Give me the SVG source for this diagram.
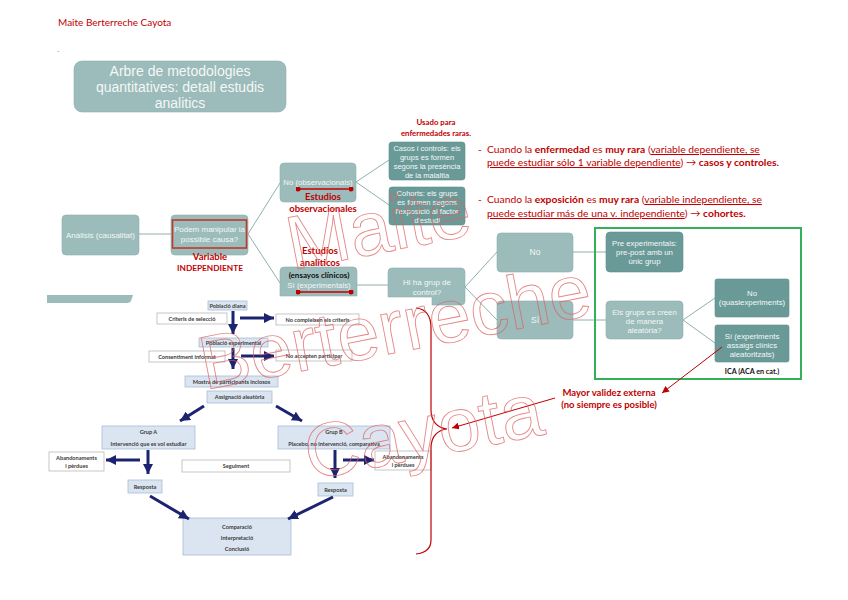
<svg xmlns="http://www.w3.org/2000/svg" width="848" height="600" viewBox="0 0 848 600">
<defs>
<style>
.lt{fill:#9bbcba;stroke:#8fb0ae;stroke-width:0.6}
.dk{fill:#6a9a97;stroke:#5f8f8c;stroke-width:0.6}
.wt{font-family:"Liberation Sans",Arial,sans-serif;fill:#f4f7f7;text-anchor:middle}
.red{font-family:Lato,"Liberation Sans",sans-serif;fill:#c00000;font-weight:bold;text-anchor:middle}
.ann{font-family:Lato,"Liberation Sans",sans-serif;fill:#c00000;font-size:10.3px}
.bb{fill:#dbe5f1;stroke:#a9bdd6;stroke-width:0.8}
.wb{fill:#ffffff;stroke:#b8b8b8;stroke-width:0.8}
.ft{font-family:Lato,"Liberation Sans",sans-serif;fill:#3a3a3a;font-weight:bold;font-size:5.6px;text-anchor:middle}
.cl{stroke:#8fb0ae;stroke-width:1;fill:none}
.na{stroke:#1c2470;stroke-width:3;fill:none;marker-end:url(#nav)}
.ra{stroke:#c00000;stroke-width:1;fill:none;marker-end:url(#rar)}
.rd{stroke:#c00000;stroke-width:1.4;marker-start:url(#dot);marker-end:url(#dot)}
</style>
<marker id="nav" viewBox="0 0 10 10" refX="10" refY="5" markerWidth="10" markerHeight="10" markerUnits="userSpaceOnUse" orient="auto"><path d="M0,0 L10,5 L0,10 z" fill="#1c2470"/></marker>
<marker id="rar" viewBox="0 0 10 10" refX="10" refY="5" markerWidth="7" markerHeight="7" markerUnits="userSpaceOnUse" orient="auto"><path d="M0,0 L10,5 L0,10 z" fill="#c00000"/></marker>
<marker id="dot" viewBox="0 0 10 10" refX="5" refY="5" markerWidth="5" markerHeight="5" markerUnits="userSpaceOnUse"><circle cx="5" cy="5" r="5" fill="#c00000"/></marker>
</defs>
<rect width="848" height="600" fill="#ffffff"/>

<text x="58" y="26" font-family="Lato,'Liberation Sans',sans-serif" font-size="10" fill="#c00000">Maite Berterreche Cayota</text>
<text x="57" y="52" font-family="'Liberation Sans',sans-serif" font-size="8" fill="#555">.</text>

<g id="title">
<rect x="74" y="61" width="212" height="51" rx="8" class="lt"/>
<text class="wt" font-size="14" x="180" y="76">Arbre de metodologies</text>
<text class="wt" font-size="14" x="180" y="92">quantitatives: detall estudis</text>
<text class="wt" font-size="14" x="180" y="108">analitics</text>
</g>

<g id="connectors">
<line class="cl" x1="139" y1="234" x2="171" y2="234"/>
<line class="cl" x1="248" y1="234" x2="280" y2="183"/>
<line class="cl" x1="248" y1="234" x2="280" y2="283"/>
<line class="cl" x1="356" y1="182" x2="389" y2="160"/>
<line class="cl" x1="356" y1="182" x2="389" y2="205"/>
<line class="cl" x1="357" y1="285" x2="388" y2="285"/>
<line class="cl" x1="465" y1="287" x2="497" y2="252"/>
<line class="cl" x1="465" y1="287" x2="497" y2="320"/>
<line class="cl" x1="573" y1="252" x2="606" y2="252"/>
<line class="cl" x1="573" y1="320" x2="606" y2="320"/>
<line class="cl" x1="683" y1="320" x2="715" y2="298"/>
<line class="cl" x1="683" y1="320" x2="715" y2="343"/>
</g>

<g id="n-analisis"><rect x="62" y="215" width="77" height="40" rx="4" class="lt"/><text class="wt" font-size="8" x="100.5" y="238">Anàlisis (causalitat)</text></g>
<g id="n-podem"><rect x="171" y="215" width="77" height="40" rx="4" class="lt"/><rect x="172.5" y="220" width="74" height="28" fill="none" stroke="#c0392b" stroke-width="1.6"/>
<text class="wt" font-size="8" x="209.5" y="232">Podem manipular la</text><text class="wt" font-size="8" x="209.5" y="242">possible causa?</text>
<text class="red" font-size="9.5" x="210" y="260">Variable</text><text class="red" font-size="8.3" x="210" y="271">INDEPENDIENTE</text></g>

<g id="n-noobs"><rect x="280" y="163" width="76" height="39" rx="4" class="lt"/><text class="wt" font-size="7.8" x="318" y="185">No (observacionals)</text>
<line class="rd" x1="298" y1="189" x2="351" y2="189"/>
<text class="red" font-size="9.5" x="323" y="200">Estudios</text><text class="red" font-size="9.5" x="323" y="212">observacionales</text></g>

<g id="n-usado"><text class="red" font-size="7.8" x="436" y="125">Usado para</text><text class="red" font-size="7.8" x="436" y="136">enfermedades raras.</text></g>

<g id="n-casos"><rect x="389" y="142" width="76" height="38" rx="3" class="dk"/>
<text class="wt" font-size="7.5" x="427" y="151">Casos i controls: els</text><text class="wt" font-size="7.5" x="427" y="160">grups es formen</text><text class="wt" font-size="7.5" x="427" y="169">segons la presència</text><text class="wt" font-size="7.5" x="427" y="178">de la malaltia</text></g>
<g id="n-cohorts"><rect x="389" y="187" width="76" height="38" rx="3" class="dk"/>
<text class="wt" font-size="7.5" x="427" y="196">Cohorts: els grups</text><text class="wt" font-size="7.5" x="427" y="205">es formen segons</text><text class="wt" font-size="7.5" x="427" y="214">l'exposició al factor</text><text class="wt" font-size="7.5" x="427" y="223">d'estudi</text></g>

<g id="n-si"><path d="M284,267 H353 Q357,267 357,271 V296 H280 V271 Q280,267 284,267 Z" class="lt"/>
<text font-family="Lato,'Liberation Sans',sans-serif" font-weight="bold" font-size="8" fill="#111" text-anchor="middle" x="319" y="278">(ensayos clínicos)</text>
<text class="wt" font-size="7.8" x="319" y="288">Sí (experimentals)</text>
<line class="rd" x1="298" y1="292" x2="351" y2="292"/>
<text class="red" font-size="9.5" x="320" y="254">Estudios</text><text class="red" font-size="9.5" x="320" y="266">analíticos</text></g>

<g id="n-hiha"><path d="M392,268 H461 Q465,268 465,272 V301 Q465,305 461,305 H432 V297 H388 V272 Q388,268 392,268 Z" class="lt"/>
<text class="wt" font-size="8" x="427" y="285">Hi ha grup de</text><text class="wt" font-size="8" x="427" y="295">control?</text></g>

<g id="n-bar"><path d="M47,295 H133 L131,301 Q130,303 127,303 H47 Z" fill="#9bbcba"/></g>

<g id="n-no2"><rect x="497" y="233" width="76" height="39" rx="4" class="lt"/><text class="wt" font-size="8.5" x="535" y="255">No</text></g>
<g id="n-si2"><rect x="497" y="301" width="76" height="38" rx="4" class="lt"/><text class="wt" font-size="8.5" x="535" y="323">Sí</text></g>

<g id="n-green"><rect x="595" y="228" width="206" height="151" fill="none" stroke="#33b05a" stroke-width="2"/></g>
<g id="n-pre"><rect x="606" y="232" width="77" height="40" rx="4" class="dk"/>
<text class="wt" font-size="7.8" x="644.5" y="246">Pre experimentals:</text><text class="wt" font-size="7.8" x="644.5" y="255">pre-post amb un</text><text class="wt" font-size="7.8" x="644.5" y="264">únic grup</text></g>
<g id="n-els"><rect x="606" y="301" width="77" height="38" rx="4" class="lt"/>
<text class="wt" font-size="7.8" x="644.5" y="315">Els grups es creen</text><text class="wt" font-size="7.8" x="644.5" y="324">de manera</text><text class="wt" font-size="7.8" x="644.5" y="333">aleatòria?</text></g>
<g id="n-quasi"><rect x="715" y="279" width="74" height="38" rx="2" class="dk"/>
<text class="wt" font-size="7.8" x="752" y="296">No</text><text class="wt" font-size="7.8" x="752" y="305">(quasiexperiments)</text></g>
<g id="n-exp"><rect x="715" y="325" width="74" height="37" rx="2" class="dk"/>
<text class="wt" font-size="7.8" x="752" y="339">Sí (experiments</text><text class="wt" font-size="7.8" x="752" y="348">assaigs clínics</text><text class="wt" font-size="7.8" x="752" y="357">aleatoritzats)</text>
<text font-family="Lato,'Liberation Sans',sans-serif" font-weight="bold" font-size="7.2" fill="#111" text-anchor="middle" x="752" y="374">ICA (ACA en cat.)</text></g>

<g id="n-ann">
<text class="ann" x="478" y="153">-</text>
<text class="ann" x="487" y="153">Cuando la <tspan font-weight="bold">enfermedad</tspan> es <tspan font-weight="bold">muy rara</tspan> (<tspan text-decoration="underline">variable dependiente, se</tspan></text>
<text class="ann" x="487" y="166"><tspan text-decoration="underline">puede estudiar sólo 1 variable dependiente</tspan>) → <tspan font-weight="bold">casos y controles.</tspan></text>
<text class="ann" x="478" y="203">-</text>
<text class="ann" x="487" y="203">Cuando la <tspan font-weight="bold">exposición</tspan> es <tspan font-weight="bold">muy rara</tspan> (<tspan text-decoration="underline">variable independiente, se</tspan></text>
<text class="ann" x="487" y="217"><tspan text-decoration="underline">puede estudiar más de una v. independiente</tspan>) → <tspan font-weight="bold">cohortes.</tspan></text>
</g>

<g id="n-mayor"><text class="red" font-size="9.5" x="609" y="396">Mayor validez externa</text><text class="red" font-size="9.5" x="609" y="408">(no siempre es posible)</text></g>

<g id="flow">
<g id="f1"><rect x="208" y="301" width="39" height="9" class="bb"/><text class="ft" x="227.5" y="307.5">Població diana</text></g>
<g id="f2"><rect x="157" y="313" width="70" height="11" class="wb"/><text class="ft" x="192" y="320.5">Criteris de selecció</text></g>
<g id="f3"><rect x="276" y="314" width="83" height="11" class="wb"/><text class="ft" x="317.5" y="321.5">No compleixen els criteris</text></g>
<g id="f4"><rect x="199" y="338" width="69" height="9" class="bb"/><text class="ft" x="233.5" y="344.5">Població experimental</text></g>
<g id="f5"><rect x="149" y="351" width="76" height="11" class="wb"/><text class="ft" x="187" y="358.5">Consentiment informat</text></g>
<g id="f6"><rect x="276" y="350" width="76" height="11" class="wb"/><text class="ft" x="314" y="357.5">No accepten participar</text></g>
<g id="f7"><rect x="185" y="376" width="93" height="11" class="bb"/><text class="ft" x="231.5" y="383.5">Mostra de participants inclosos</text></g>
<g id="f8"><rect x="207" y="391" width="65" height="12" class="bb"/><text class="ft" x="239.5" y="399">Assignació aleatòria</text></g>
<g id="f9"><rect x="102" y="426" width="93" height="23" class="bb"/><text class="ft" x="148.5" y="434">Grup A</text><text class="ft" x="148.5" y="446">Intervenció que es vol estudiar</text></g>
<g id="f10"><rect x="278" y="426" width="112" height="23" class="bb"/><text class="ft" x="334" y="434">Grup B</text><text class="ft" x="334" y="446">Placebo, no intervenció, comparativa</text></g>
<g id="f11"><rect x="49" y="452" width="55" height="19" class="wb"/><text class="ft" x="76.5" y="460">Abandonaments</text><text class="ft" x="76.5" y="467.5">i pèrdues</text></g>
<g id="f12"><rect x="182" y="460" width="108" height="12" class="wb"/><text class="ft" x="236" y="468">Seguiment</text></g>
<g id="f13"><rect x="128" y="480" width="34" height="13" class="bb"/><text class="ft" x="145" y="488.5">Resposta</text></g>
<g id="f14"><rect x="375" y="451" width="56" height="19" class="wb"/><text class="ft" x="403" y="459">Abandonaments</text><text class="ft" x="403" y="466.5">i pèrdues</text></g>
<g id="f15"><rect x="318" y="483" width="35" height="13" class="bb"/><text class="ft" x="335.5" y="491.5">Resposta</text></g>
<g id="f16"><rect x="183" y="518" width="108" height="37" class="bb"/><text class="ft" x="237" y="529">Comparació</text><text class="ft" x="237" y="540">Interpretació</text><text class="ft" x="237" y="551">Conclusió</text></g>
</g>

<g id="arrows">
<line class="na" x1="233" y1="311" x2="233" y2="334"/>
<line class="na" x1="240" y1="318" x2="274" y2="318"/>
<line class="na" x1="233" y1="348" x2="233" y2="369"/>
<line class="na" x1="241" y1="356" x2="274" y2="356"/>
<line class="na" x1="204" y1="406" x2="180" y2="421"/>
<line class="na" x1="276" y1="406" x2="302" y2="421"/>
<line class="na" x1="148" y1="450" x2="148" y2="474"/>
<line class="na" x1="140" y1="460" x2="106" y2="460"/>
<line class="na" x1="335" y1="450" x2="335" y2="478"/>
<line class="na" x1="343" y1="460" x2="374" y2="460"/>
<line class="na" x1="150" y1="496" x2="189" y2="519"/>
<line class="na" x1="333" y1="497" x2="288" y2="519"/>
<line class="ra" x1="722" y1="347" x2="662" y2="393"/>
<line class="ra" x1="555" y1="398" x2="452" y2="428"/>
<path d="M416,308 C426,309 431,316 431,328 V410 C431,422 438,428 447,429 C438,430 431,436 431,448 V540 C431,548 426,553 416,554" fill="none" stroke="#c00000" stroke-width="1.2"/>
</g>

<g id="watermark" font-family="'Liberation Sans',Arial,sans-serif" font-size="76" fill="none" stroke="#e06060" stroke-width="0.9" opacity="0.75">
<text x="292" y="270" transform="rotate(-11 292 270)">Maite</text>
<text x="205" y="390" transform="rotate(-11 205 390)">Berterreche</text>
<text x="310" y="480" transform="rotate(-11 310 480)">Cayota</text>
</g>
</svg>
